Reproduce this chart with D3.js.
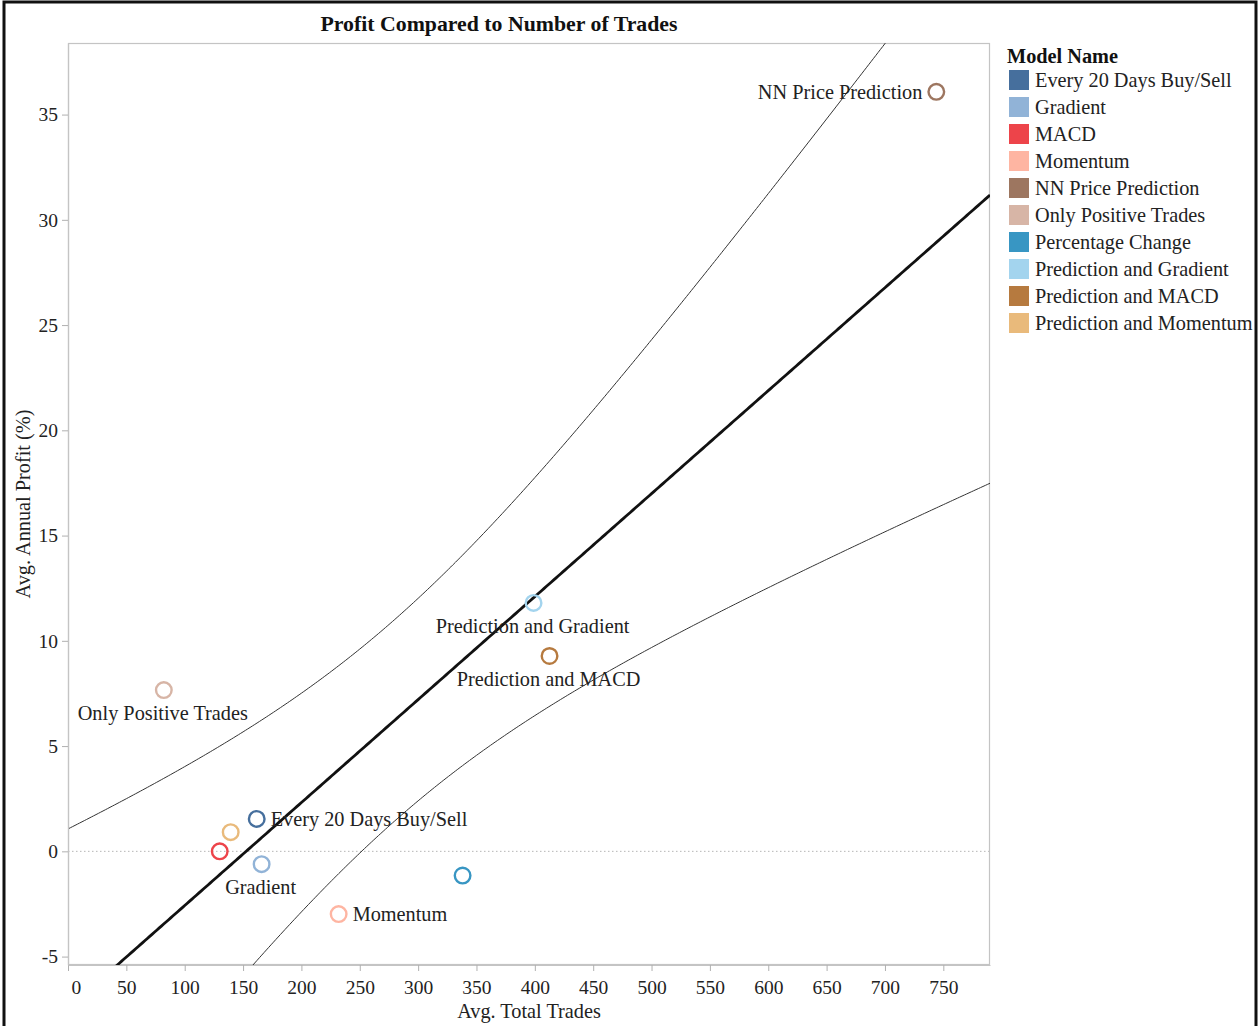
<!DOCTYPE html>
<html>
<head>
<meta charset="utf-8">
<script src="https://cdn.jsdelivr.net/npm/d3@7"></script>
<style>
  html, body { margin: 0; padding: 0; background: #fff; }
  svg { display: block; font-family: "Liberation Serif", "Times New Roman", serif; }
</style>
</head>
<body>
<svg id="chart" width="1259" height="1026"></svg>
<script>
// Model names, in legend order
const models = [
  "Every 20 Days Buy/Sell", "Gradient", "MACD", "Momentum", "NN Price Prediction",
  "Only Positive Trades", "Percentage Change", "Prediction and Gradient",
  "Prediction and MACD", "Prediction and Momentum"
];
// Average total trades per model
const avgTrades = [161.7, 165.9, 130, 231.9, 744, 82.1, 338.1, 398.9, 412.6, 139.4];
// Average annual profit (%) per model
const avgProfit = [1.54, -0.61, 0.0, -2.98, 36.08, 7.66, -1.15, 11.8, 9.28, 0.91];
// Colours per model
const modelColors = [
  "#466f9d", "#91b3d7", "#ed444a", "#feb5a2", "#9d7660",
  "#d7b5a6", "#3896c3", "#a3d4ee", "#b67a3f", "#e9ba7b"
];
// Axis ticks
const xTicks = [0, 50, 100, 150, 200, 250, 300, 350, 400, 450, 500, 550, 600, 650, 700, 750];
const yTicks = [-5, 0, 5, 10, 15, 20, 25, 30, 35];

// Which points carry a text label, and where it sits
const labelPlacement = {
  "NN Price Prediction": "left",
  "Prediction and Gradient": "below",
  "Prediction and MACD": "below",
  "Only Positive Trades": "below",
  "Every 20 Days Buy/Sell": "right",
  "Gradient": "below",
  "Momentum": "right"
};

const points = models.map((m, i) => ({ name: m, x: avgTrades[i], y: avgProfit[i], color: modelColors[i] }));

const svg = d3.select("#chart");
const W = 1259, H = 1026;
const plot = { left: 68, right: 990, top: 43, bottom: 965 };
const textColor = "#222";

svg.append("rect").attr("width", W).attr("height", H).attr("fill", "#fff");

const x = d3.scaleLinear().domain([0, 790]).range([plot.left, plot.right]);
const y = d3.scaleLinear().domain([-5.4, 38.4]).range([plot.bottom, plot.top]);

// ---- Ordinary least squares trend with 95% confidence band for the mean ----
const n = points.length;
const mx = d3.mean(points, d => d.x), my = d3.mean(points, d => d.y);
const sxx = d3.sum(points, d => (d.x - mx) ** 2);
const sxy = d3.sum(points, d => (d.x - mx) * (d.y - my));
const slope = sxy / sxx;
const intercept = my - slope * mx;
const sse = d3.sum(points, d => (d.y - (intercept + slope * d.x)) ** 2);
const s = Math.sqrt(sse / (n - 2));
const tCrit = 2.306; // two-sided 95%, 8 degrees of freedom
const band = xv => tCrit * s * Math.sqrt(1 / n + (xv - mx) ** 2 / sxx);

const xs = d3.range(0, 790.01, 2);
const fitLine = xs.map(v => [v, intercept + slope * v]);
const upper = xs.map(v => [v, intercept + slope * v + band(v)]);
const lower = xs.map(v => [v, intercept + slope * v - band(v)]);

svg.append("clipPath").attr("id", "plotClip")
  .append("rect")
  .attr("x", plot.left).attr("y", plot.top)
  .attr("width", plot.right - plot.left).attr("height", plot.bottom - plot.top);

const lineGen = d3.line().x(d => x(d[0])).y(d => y(d[1]));

// Zero reference line
svg.append("line")
  .attr("x1", plot.left).attr("x2", plot.right)
  .attr("y1", y(0)).attr("y2", y(0))
  .attr("stroke", "#b5b5b5").attr("stroke-width", 1).attr("stroke-dasharray", "1.5,2.5");

// Plot frame
svg.append("rect")
  .attr("x", plot.left + 0.5).attr("y", plot.top + 0.5)
  .attr("width", plot.right - plot.left - 1).attr("height", plot.bottom - plot.top - 1)
  .attr("fill", "none").attr("stroke", "#c4c4c4").attr("stroke-width", 1.2);

const lines = svg.append("g").attr("clip-path", "url(#plotClip)");
[upper, lower].forEach(b => lines.append("path").datum(b)
  .attr("d", lineGen).attr("fill", "none").attr("stroke", "#333").attr("stroke-width", 1));
lines.append("path").datum(fitLine)
  .attr("d", lineGen).attr("fill", "none").attr("stroke", "#111").attr("stroke-width", 2.8);

// ---- Axes ----
const fmt = v => String(v); // plain hyphen for negatives
const xAxis = svg.append("g").attr("transform", `translate(0,${plot.bottom})`)
  .call(d3.axisBottom(x).tickValues(xTicks).tickFormat(fmt).tickSize(6).tickPadding(4).tickSizeOuter(0));
const yAxis = svg.append("g").attr("transform", `translate(${plot.left},0)`)
  .call(d3.axisLeft(y).tickValues(yTicks).tickFormat(fmt).tickSize(6).tickPadding(4).tickSizeOuter(0));
[xAxis, yAxis].forEach(a => {
  a.select(".domain").attr("stroke", "#c4c4c4").attr("stroke-width", 1.2);
  a.selectAll(".tick line").attr("stroke", "#b0b0b0");
  a.selectAll(".tick text").attr("fill", textColor)
    .style("font-family", "'Liberation Serif', serif").style("font-size", "19.5px");
});
xAxis.selectAll(".tick text").attr("dy", "0.95em");
// keep the first x label inside the frame
xAxis.selectAll(".tick").filter(d => d === 0).select("text").attr("text-anchor", "start").attr("x", 3);

// Axis titles
svg.append("text")
  .attr("x", (plot.left + plot.right) / 2).attr("y", 1018)
  .attr("text-anchor", "middle").attr("fill", textColor).style("font-size", "20.3px")
  .text("Avg. Total Trades");
svg.append("text")
  .attr("transform", `translate(30,${(plot.top + plot.bottom) / 2}) rotate(-90)`)
  .attr("text-anchor", "middle").attr("fill", textColor).style("font-size", "20.3px")
  .text("Avg. Annual Profit (%)");

// Title
svg.append("text")
  .attr("x", 499).attr("y", 31)
  .attr("text-anchor", "middle").attr("fill", "#111")
  .style("font-size", "21.8px").style("font-weight", "bold")
  .text("Profit Compared to Number of Trades");

// ---- Points ----
svg.append("g").selectAll("circle").data(points).join("circle")
  .attr("cx", d => x(d.x)).attr("cy", d => y(d.y)).attr("r", 7.8)
  .attr("fill", "none").attr("stroke", d => d.color).attr("stroke-width", 2.4);

// Point labels
const labelled = points.filter(d => labelPlacement[d.name]);
svg.append("g").selectAll("text").data(labelled).join("text")
  .attr("x", d => {
    const p = labelPlacement[d.name];
    return x(d.x) + (p === "left" ? -14 : p === "right" ? 14 : -1);
  })
  .attr("y", d => y(d.y) + (labelPlacement[d.name] === "below" ? 23 : 0))
  .attr("dy", "0.35em")
  .attr("text-anchor", d => {
    const p = labelPlacement[d.name];
    return p === "left" ? "end" : p === "right" ? "start" : "middle";
  })
  .attr("fill", textColor).style("font-size", "20.3px")
  .text(d => d.name);

// ---- Legend ----
const legend = svg.append("g").attr("transform", "translate(1007,0)");
legend.append("text").attr("x", 0).attr("y", 63)
  .attr("fill", "#111").style("font-size", "20.3px").style("font-weight", "bold")
  .text("Model Name");
const items = legend.selectAll("g.item").data(models).join("g")
  .attr("class", "item")
  .attr("transform", (d, i) => `translate(0,${80 + i * 27})`);
items.append("rect").attr("x", 2).attr("y", -10).attr("width", 20).attr("height", 20)
  .attr("fill", (d, i) => modelColors[i]);
items.append("text").attr("x", 28).attr("y", 0).attr("dy", "0.35em")
  .attr("fill", textColor).style("font-size", "20.3px").text(d => d);

// Outer frame
svg.append("path")
  .attr("d", `M4,${H} L4,2 L1256,2 L1256,${H}`)
  .attr("fill", "none").attr("stroke", "#111").attr("stroke-width", 3);
</script>
</body>
</html>
